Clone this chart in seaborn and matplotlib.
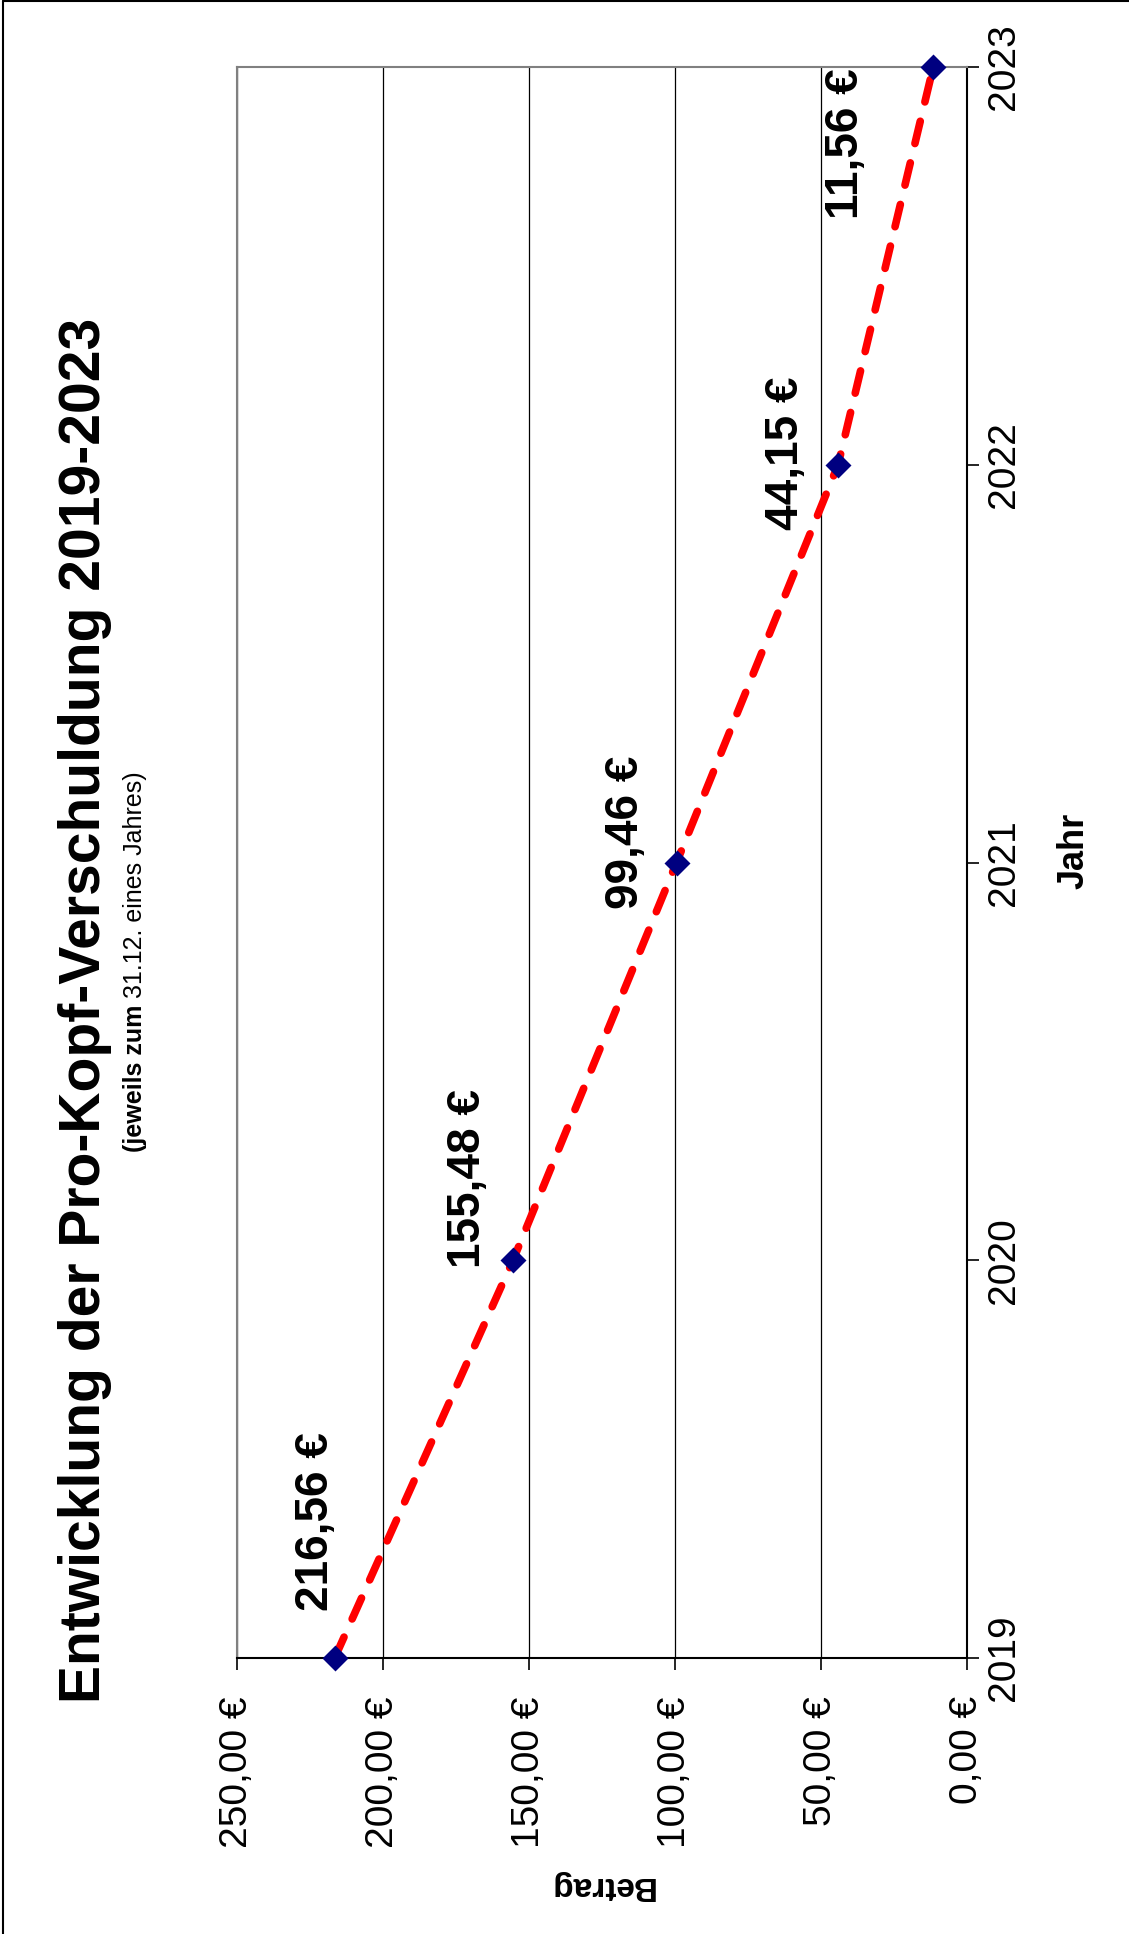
import matplotlib
matplotlib.use("Agg")
import matplotlib.pyplot as plt
from matplotlib.lines import Line2D
import seaborn as sns
import pandas as pd

# ---------------- data ----------------
years = [2019, 2020, 2021, 2022, 2023]
amounts = [216.56, 155.48, 99.46, 44.15, 11.56]
point_labels = ["216,56 €", "155,48 €", "99,46 €", "44,15 €", "11,56 €"]
value_ticks = [0, 50, 100, 150, 200, 250]
value_tick_labels = ["0,00 €", "50,00 €", "100,00 €", "150,00 €", "200,00 €", "250,00 €"]
year_ticks = [2019, 2020, 2021, 2022, 2023]
year_tick_labels = ["2019", "2020", "2021", "2022", "2023"]
title_text = "Entwicklung der Pro-Kopf-Verschuldung 2019-2023"
subtitle_bold = "(jeweils zum"
subtitle_rest = "31.12. eines Jahres)"
x_label = "Jahr"
y_label = "Betrag"

# label offsets (points) relative to each marker -- layout only
label_offsets = [(-5, 98), (-24, 59), (-28, 22), (-29, 8), (-54, -55)]

df = pd.DataFrame({"Jahr": years, "Betrag": amounts})

sns.set_style("white")
plt.rcParams["font.family"] = ["Liberation Sans", "DejaVu Sans"]
plt.rcParams["text.color"] = "black"
plt.rcParams["xtick.color"] = "black"
plt.rcParams["ytick.color"] = "black"
plt.rcParams["axes.labelcolor"] = "black"

W, H = 1129, 1934
fig = plt.figure(figsize=(W / 100, H / 100), dpi=100)
fig.patch.set_facecolor("white")


def fx(x):
    return x / W


def fy(y):
    return 1 - y / H


L, R, T, B = 237, 967, 67, 1658
ax = fig.add_axes([fx(L), fy(B), (R - L) / W, (B - T) / H])
ax.set_facecolor("white")

# line (rotated chart: value horizontal, year vertical)
sns.lineplot(data=df, x="Betrag", y="Jahr", orient="y", ax=ax,
             color="#FF0000", linewidth=5.5, linestyle=(0, (3, 2.6)),
             dash_capstyle="round", clip_on=False, zorder=3)
sns.scatterplot(data=df, x="Betrag", y="Jahr", ax=ax, marker="D", s=175,
                color="#000080", edgecolor="#000080", linewidth=0,
                clip_on=False, zorder=4)

ax.set_xlim(250, 0)
ax.set_ylim(2019, 2023)

ax.set_xticks(value_ticks)
ax.set_xticklabels(value_tick_labels)
ax.set_yticks(year_ticks)
ax.set_yticklabels(year_tick_labels)
ax.yaxis.tick_right()
ax.set_xlabel("")
ax.set_ylabel("")

ax.tick_params(axis="x", bottom=True, top=False, direction="out", length=8.6,
               width=1.2, pad=19, labelsize=28, labelrotation=90,
               colors="black", labelcolor="black")
ax.tick_params(axis="y", left=False, right=True, direction="out", length=8.6,
               width=1.2, pad=5, labelsize=28, labelrotation=90,
               colors="black", labelcolor="black")
for t in ax.get_yticklabels():
    t.set_va("center")

ax.grid(axis="x", color="black", linewidth=0.9)
ax.grid(axis="y", visible=False)
ax.set_axisbelow(True)

for side in ["left", "top"]:
    ax.spines[side].set_color("#808080")
    ax.spines[side].set_linewidth(1.5)
for side in ["right", "bottom"]:
    ax.spines[side].set_color("black")
    ax.spines[side].set_linewidth(1.5)

# data labels
for v, yr, lab, (dx, dy) in zip(amounts, years, point_labels, label_offsets):
    ax.annotate(lab, xy=(v, yr), xytext=(dx, dy), textcoords="offset points",
                rotation=90, rotation_mode="anchor", ha="center", va="baseline",
                fontsize=33, fontweight="bold", color="black",
                annotation_clip=False, zorder=5)

# title
fig.text(fx(100), fy(1010), title_text, rotation=90, rotation_mode="anchor",
         ha="center", va="baseline", fontsize=41, fontweight="bold",
         color="black")

# subtitle (bold part + regular part)
sub_fs = 18
renderer = fig.canvas.get_renderer()
tmp1 = fig.text(0, 0, subtitle_bold, fontsize=sub_fs, fontweight="bold")
w1 = tmp1.get_window_extent(renderer).width
tmp1.remove()
tmp2 = fig.text(0, 0, subtitle_rest, fontsize=sub_fs)
w2 = tmp2.get_window_extent(renderer).width
tmp2.remove()
gap = 0.278 * sub_fs / 72 * 100
total = w1 + gap + w2
start = 962 + total / 2
fig.text(fx(142), fy(start), subtitle_bold, rotation=90, rotation_mode="anchor",
         ha="left", va="baseline", fontsize=sub_fs, fontweight="bold",
         color="black")
fig.text(fx(142), fy(start - w1 - gap), subtitle_rest, rotation=90,
         rotation_mode="anchor", ha="left", va="baseline", fontsize=sub_fs,
         color="black")

# axis titles
fig.text(fx(1083), fy(851), x_label, rotation=90, rotation_mode="anchor",
         ha="center", va="baseline", fontsize=26, fontweight="bold",
         color="black")
fig.text(fx(601), fy(1877), y_label, rotation=180, rotation_mode="anchor",
         ha="center", va="baseline", fontsize=24, fontweight="bold",
         color="black")

# figure border (left and top)
fig.add_artist(Line2D([fx(3), fx(3)], [0, fy(1)], transform=fig.transFigure,
                      color="black", linewidth=1.5))
fig.add_artist(Line2D([fx(3), 1], [fy(1), fy(1)], transform=fig.transFigure,
                      color="black", linewidth=1.5))

fig.savefig("out.png", dpi=100, facecolor="white")
